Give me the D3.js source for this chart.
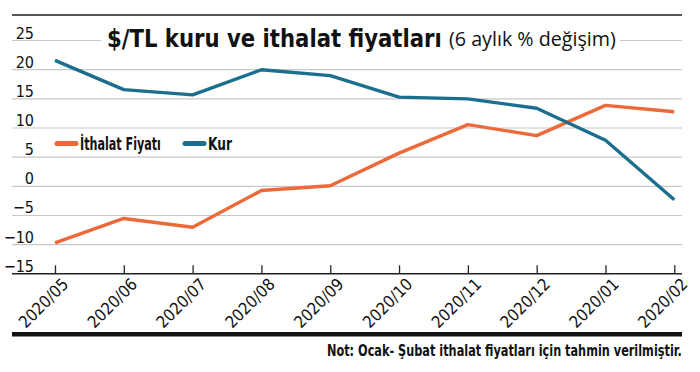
<!DOCTYPE html>
<html><head><meta charset="utf-8">
<script src="https://cdn.jsdelivr.net/npm/d3@7"></script>
<style>
html,body{margin:0;padding:0;background:#fff;}
svg{display:block;}
</style></head>
<body>
<svg id="chart" width="700" height="372"></svg>
<script>
const months = ["2020/05","2020/06","2020/07","2020/08","2020/09","2020/10","2020/11","2020/12","2020/01","2020/02"];
const ithalat = [-9.8,-5.6,-7.1,-0.8,0.0,5.6,10.5,8.6,13.8,12.7];
const kur = [21.5,16.5,15.6,19.9,18.9,15.2,14.9,13.3,7.8,-2.4];
const yTicks = [-15,-10,-5,0,5,10,15,20,25];
const seriesNames = ["İthalat Fiyatı","Kur"];
const colors = ["#EC6A3A","#1B6E8E"];

const svg = d3.select("#chart");
const narrow = "'Liberation Sans Narrow','DejaVu Sans Condensed',sans-serif";

function fit(sel, size, target) {
  sel.style("font-size", size + "px");
  const w = sel.node().getComputedTextLength();
  if (w > 0) sel.style("font-size", (size * target / w).toFixed(2) + "px");
  return sel;
}
// horizontally squeeze a text to a target width, keeping its font size
function squeeze(sel, px, py, size, target) {
  sel.style("font-size", size + "px").attr("x", 0).attr("y", 0);
  const w = sel.node().getComputedTextLength();
  const s = w > 0 ? Math.min(1, target / w) : 1;
  sel.attr("transform", `translate(${px},${py}) scale(${s.toFixed(4)},1)`);
  return sel;
}

const x = d3.scalePoint().domain(months).range([55, 674.3]);
const y = d3.scaleLinear().domain([-15, 25]).range([273.3, 40]);

// top rule
svg.append("line").attr("x1",12).attr("x2",682).attr("y1",15).attr("y2",15)
  .attr("stroke","#555").attr("stroke-width",2);

// y grid + labels
const yAxis = d3.axisRight(y).tickValues(yTicks).tickSize(670).tickFormat(d3.format("d"));
const gy = svg.append("g").attr("transform","translate(12,0)").call(yAxis);
gy.select(".domain").remove();
gy.selectAll(".tick line").attr("stroke", d => d === -15 ? "#222" : "#c8c8c8")
  .attr("stroke-width", d => d === -15 ? 1.6 : 1.2);
gy.selectAll(".tick text").attr("x", 22).attr("dy", "-2px").attr("text-anchor","end")
  .style("font-family", narrow).style("font-size","16px").attr("fill","#111");

// x axis ticks (upward) + rotated labels
const xAxis = d3.axisBottom(x).tickSizeInner(-8).tickSizeOuter(0).tickPadding(0);
const gx = svg.append("g").attr("transform","translate(0,273.3)").call(xAxis);
gx.select(".domain").remove();
gx.selectAll(".tick line").attr("stroke","#222").attr("stroke-width",1.3);
gx.selectAll(".tick text")
  .attr("y",0).attr("dy",0)
  .attr("text-anchor","end")
  .attr("transform","translate(14,12) rotate(-45)")
  .style("font-family", narrow).attr("fill","#111")
  .each(function(){ fit(d3.select(this), 15, 62); });

// title background + title
svg.append("rect").attr("x",101).attr("y",22).attr("width",519).attr("height",30).attr("fill","#fff");
const t1 = svg.append("text").attr("fill","#111").text("$/TL kuru ve ithalat fiyatları")
  .style("font-family", narrow).style("font-weight","700");
squeeze(t1, 107, 47, 24, 335);
const t2 = svg.append("text").attr("fill","#111").text("(6 aylık % değişim)")
  .style("font-family","'Open Sans',sans-serif").style("font-weight","400");
squeeze(t2, 449, 46, 20, 167);

// lines
const line = d3.line().x((d,i) => x(months[i])).y(d => y(d));
[ithalat, kur].forEach((s, k) => {
  svg.append("path").datum(s).attr("d", line).attr("fill","none")
    .attr("stroke", colors[k]).attr("stroke-width",3.4).attr("stroke-linejoin","round");
});

// legend
const legendX = [55, 183];
const legendW = [81, 24];
seriesNames.forEach((n, k) => {
  svg.append("line").attr("x1",legendX[k]+2).attr("x2",legendX[k]+21).attr("y1",143.5).attr("y2",143.5)
    .attr("stroke",colors[k]).attr("stroke-width",5).attr("stroke-linecap","round");
  const t = svg.append("text").text(n)
    .style("font-family", narrow).style("font-weight","600").attr("fill","#111");
  squeeze(t, legendX[k]+25, 149.5, 17, legendW[k]);
});

// bottom rule
svg.append("rect").attr("x",12).attr("y",332).attr("width",670).attr("height",4.5).attr("fill","#111");

// note
const note = svg.append("text")
  .text("Not: Ocak- Şubat ithalat fiyatları için tahmin verilmiştir.")
  .style("font-family", narrow).style("font-weight","600").attr("fill","#111");
squeeze(note, 327, 356, 15, 355);
</script>
</body></html>
